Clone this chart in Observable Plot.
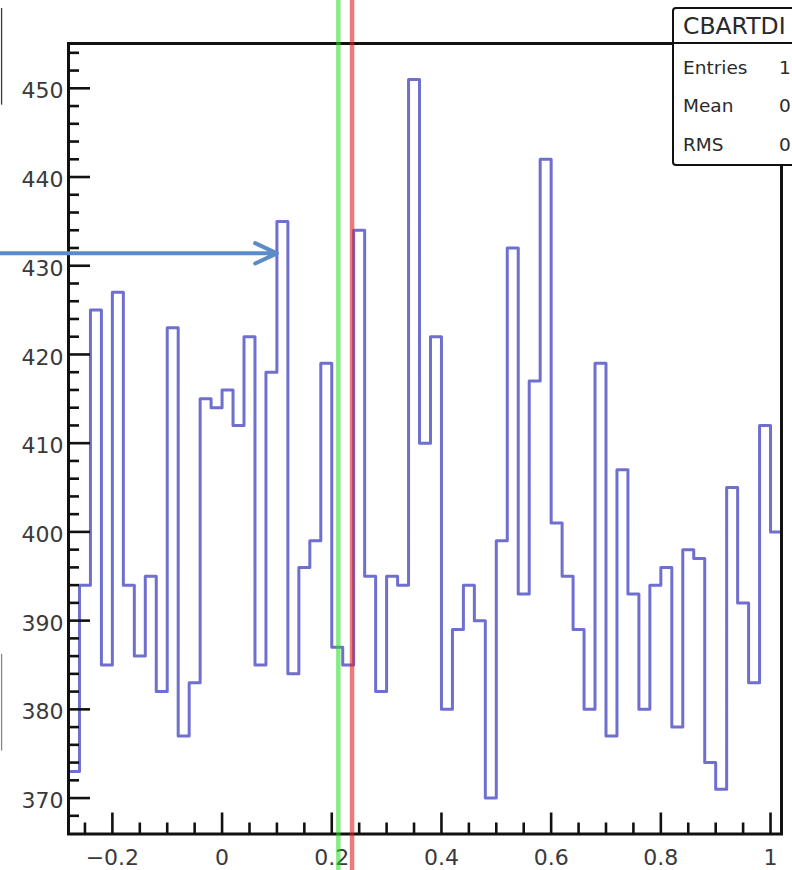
<!DOCTYPE html>
<html>
<head>
<meta charset="utf-8">
<script src="https://cdn.jsdelivr.net/npm/d3@7"></script>
<script src="https://cdn.jsdelivr.net/npm/@observablehq/plot@0.6"></script>
<style>
  html, body { margin: 0; padding: 0; background: #fff; overflow: hidden; }
  #wrap { position: relative; width: 792px; height: 870px; overflow: hidden; font-family: "DejaVu Sans", sans-serif; }
  #stats { position: absolute; left: 672px; top: 7px; width: 170px; height: 159px; box-sizing: border-box;
           border: 2.5px solid #111; border-radius: 4px; background: #fff; color: #2a2a2a; }
  #stats .title { position: absolute; left: 0; top: 0; right: 0; height: 35px; box-sizing: border-box;
                  border-bottom: 2.5px solid #111; font-size: 23.5px; line-height: 35px; padding-left: 9px; white-space: nowrap; }
  #stats .row { position: absolute; left: 9px; font-size: 18.5px; line-height: 20px; white-space: nowrap; }
  #stats .val { position: absolute; left: 105px; font-size: 18.5px; line-height: 20px; white-space: nowrap; }
</style>
</head>
<body>
<div id="wrap"></div>
<script>
// ---- data ----
const binLow = -0.28;
const binWidth = 0.02;
const counts = [
  373, 394, 425, 385, 427, 394, 386, 395, 382, 423,
  377, 383, 415, 414, 416, 412, 422, 385, 418, 435,
  384, 396, 399, 419, 387, 385, 434, 395, 382, 395,
  394, 451, 410, 422, 380, 389, 394, 390, 370, 399,
  432, 393, 417, 442, 401, 395, 389, 380, 419, 377,
  407, 393, 380, 394, 396, 378, 398, 397, 374, 371,
  405, 392, 383, 412, 400
];
const xDomain = [-0.28, 1.02];
const yDomain = [365.95, 455.05];
const xTicks = [-0.2, 0, 0.2, 0.4, 0.6, 0.8, 1];
const xTickLabels = ["\u22120.2", "0", "0.2", "0.4", "0.6", "0.8", "1"];
const xMinorTicks = [-0.25, -0.15, -0.1, -0.05, 0.05, 0.1, 0.15, 0.25, 0.3, 0.35, 0.45, 0.5, 0.55, 0.65, 0.7, 0.75, 0.85, 0.9, 0.95];
const yTicks = [370, 380, 390, 400, 410, 420, 430, 440, 450];
const yTickLabels = ["370", "380", "390", "400", "410", "420", "430", "440", "450"];
const yMinorTicks = [368, 372, 374, 376, 378, 382, 384, 386, 388, 392, 394, 396, 398, 402, 404, 406, 408, 412, 414, 416, 418, 422, 424, 426, 428, 432, 434, 436, 438, 442, 444, 446, 448, 452, 454];
const greenMarker = [0.212];
const redMarker = [0.237];
const arrowNote = [{x1: -0.41, y1: 431.4, x2: 0.1, y2: 431.4}];
const edgeLines = [{x: -0.402, y1: 459.0, y2: 448.1, c: "#3a3a3a"}, {x: -0.402, y1: 386.2, y2: 375.3, c: "#888888"}];
const statTitle = "CBARTDI";
const statLabels = ["Entries", "Mean", "RMS"];
const statValues = ["1", "0", "0"];

// histogram step points (bin low edges + closing edge)
const histPoints = counts.map((c, i) => ({x: binLow + i * binWidth, y: c}));
histPoints.push({x: binLow + counts.length * binWidth, y: counts[counts.length - 1]});

const chart = Plot.plot({
  width: 792,
  height: 870,
  marginLeft: 68,
  marginRight: 11,
  marginTop: 43,
  marginBottom: 36.5,
  x: {domain: xDomain},
  y: {domain: yDomain},
  style: {fontFamily: "DejaVu Sans, sans-serif", background: "#fff", color: "#3a3a3a", overflow: "visible"},
  marks: [
    Plot.ruleX(edgeLines, {x: "x", y1: "y1", y2: "y2", stroke: "c", strokeWidth: 1.3}),
    Plot.line(histPoints, {x: "x", y: "y", curve: "step-after", stroke: "#6f6fd0", strokeWidth: 3}),
    Plot.frame({stroke: "#111", strokeWidth: 3}),
    Plot.ruleY(yTicks, {y: d => d, x1: xDomain[0], x2: xDomain[0], insetRight: -22, stroke: "#111", strokeWidth: 2.6}),
    Plot.ruleY(yMinorTicks, {y: d => d, x1: xDomain[0], x2: xDomain[0], insetRight: -11, stroke: "#111", strokeWidth: 2.6}),
    Plot.ruleX(xTicks, {x: d => d, y1: yDomain[0], y2: yDomain[0], insetTop: -21, stroke: "#111", strokeWidth: 2.6}),
    Plot.ruleX(xMinorTicks, {x: d => d, y1: yDomain[0], y2: yDomain[0], insetTop: -11, stroke: "#111", strokeWidth: 2.6}),
    Plot.axisX({ticks: xTicks, tickSize: 0, tickPadding: 15, fontSize: 22, label: null,
                tickFormat: d => xTickLabels[xTicks.indexOf(d)]}),
    Plot.axisY({ticks: yTicks, tickSize: 0, tickPadding: 5, fontSize: 22, label: null, dy: 3,
                tickFormat: d => yTickLabels[yTicks.indexOf(d)]}),
    Plot.ruleX(greenMarker, {x: d => d, stroke: "#22dd22", strokeOpacity: 0.55, strokeWidth: 4.5, insetTop: -43, insetBottom: -36.5}),
    Plot.ruleX(redMarker, {x: d => d, stroke: "#dd2222", strokeOpacity: 0.6, strokeWidth: 4.5, insetTop: -43, insetBottom: -36.5}),
    Plot.arrow(arrowNote, {x1: "x1", y1: "y1", x2: "x2", y2: "y2", stroke: "#5b8cc7", strokeWidth: 4, headLength: 9, headAngle: 50})
  ]
});

const wrap = document.getElementById("wrap");
wrap.appendChild(chart);

// stat box (ROOT-style statistics panel, clipped at the right edge)
const box = document.createElement("div");
box.id = "stats";
const t = document.createElement("div");
t.className = "title";
t.textContent = statTitle;
box.appendChild(t);
const rowTops = [49, 87, 126];
statLabels.forEach((lab, i) => {
  const a = document.createElement("div");
  a.className = "row";
  a.style.top = rowTops[i] + "px";
  a.textContent = lab;
  box.appendChild(a);
  const b = document.createElement("div");
  b.className = "val";
  b.style.top = rowTops[i] + "px";
  b.textContent = statValues[i];
  box.appendChild(b);
});
wrap.appendChild(box);
</script>
</body>
</html>
